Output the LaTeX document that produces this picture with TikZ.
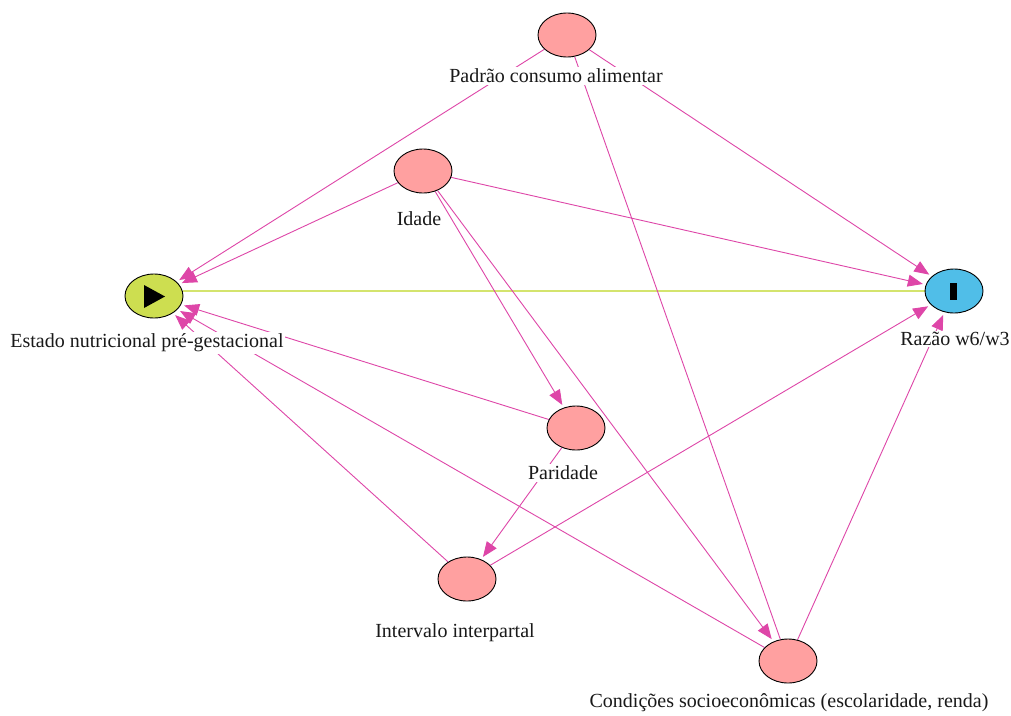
\documentclass[tikz,border=0pt]{standalone}
\usepackage{fontspec}
\setmainfont{Liberation Serif}
\usetikzlibrary{shapes.geometric,arrows.meta,backgrounds}
\definecolor{pinkfill}{RGB}{255,160,160}
\definecolor{expfill}{RGB}{205,222,80}
\definecolor{outfill}{RGB}{80,190,232}
\definecolor{edgecol}{RGB}{222,70,168}
\definecolor{causal}{RGB}{212,228,110}
\tikzset{
  var/.style={ellipse,draw=black,line width=0.9pt,fill=pinkfill,minimum width=58pt,minimum height=44pt,inner sep=0pt},
  expo/.style={var,fill=expfill},
  outc/.style={var,fill=outfill},
  lbl/.style={font=\fontsize{20}{22}\selectfont,text=black!90,fill=white,inner sep=1.5pt},
  edge/.style={draw=edgecol,line width=0.9pt},
  arr/.style={edge,-{Triangle[length=15pt,width=12pt]},shorten >=3pt},
  causaledge/.style={draw=causal,line width=1.1pt}
}
\begin{document}
\begin{tikzpicture}[x=1pt,y=-1pt]
\useasboundingbox (0,0) rectangle (1011,715);
% nodes
\node[var]  (P)  at (567,35)  {};
\node[var]  (I)  at (423,171) {};
\node[expo] (E)  at (154,296) {};
\node[outc] (R)  at (954,291) {};
\node[var]  (Pa) at (576,428) {};
\node[var]  (Iv) at (467,579) {};
\node[var]  (C)  at (788,661) {};
% labels
\node[lbl] (Pl)  at (556,76)  {Padrão consumo alimentar};
\node[lbl] (Il)  at (419,219) {Idade};
\node[lbl] (El)  at (147,343) {Estado nutricional pré-gestacional};
\node[lbl] (Rl)  at (955,339) {Razão w6/w3};
\node[lbl] (Pal) at (563,473) {Paridade};
\node[lbl] (Ivl) at (455,633) {Intervalo interpartal};
\node[lbl] (Cl)  at (789,703) {Condições socioeconômicas (escolaridade, renda)};
% icons
\fill[black] (144,285) -- (144,308) -- (165,296.5) -- cycle;
\fill[black] (950,283) rectangle (957,300);
% edges
\begin{scope}[on background layer]
\fill[white] (0,0) rectangle (1011,715);
\draw[causaledge] ([yshift=5pt]E.east) -- (R.west);
\draw[arr] (P) -- (E);
\draw[arr] (P) -- (R);
\draw[edge] (P) -- (C);
\draw[arr] (I) -- (E);
\draw[arr] (I) -- (R);
\draw[arr] (I) -- (Pa);
\draw[arr] (I) -- (C);
\draw[arr] (Pa) -- (E);
\draw[arr] (Pa) -- (Iv);
\draw[arr] (Iv) -- (E);
\draw[arr] (Iv) -- (R);
\draw[arr] (C) -- (E);
\draw[arr] (C) -- (R);
\end{scope}
\end{tikzpicture}
\end{document}
